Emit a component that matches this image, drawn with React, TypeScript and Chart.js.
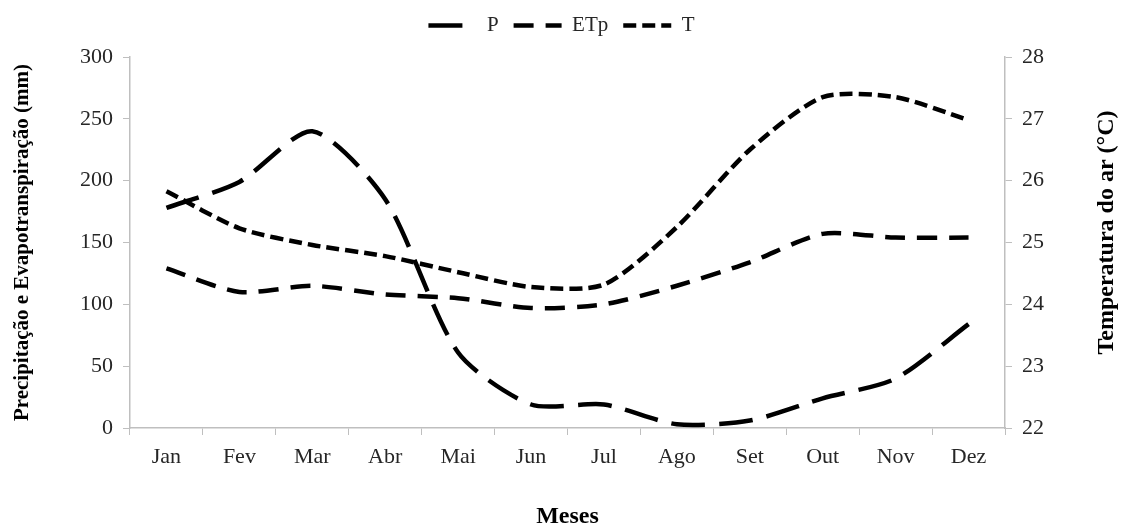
import React, { useEffect, useRef } from "react";
import { Chart, registerables } from "chart.js";

Chart.register(...registerables);

const months = ["Jan", "Fev", "Mar", "Abr", "Mai", "Jun", "Jul", "Ago", "Set", "Out", "Nov", "Dez"];
const precip = [178, 199, 240, 185, 61, 19, 19, 3, 6, 24, 40, 84];
const etp = [129, 110, 115, 108, 105, 97, 100, 115, 134, 157, 154, 154];
const temp = [25.83, 25.23, 24.96, 24.78, 24.52, 24.28, 24.32, 25.25, 26.5, 27.35, 27.35, 26.98];

const leftTicks = { min: 0, max: 300, step: 50 };
const rightTicks = { min: 22, max: 28, step: 1 };

const titleLeft = "Precipitação e Evapotranspiração (mm)";
const titleRight = "Temperatura do ar (°C)";
const titleX = "Meses";

const FONT = "'Liberation Serif', 'Times New Roman', serif";
const AXIS_GRAY = "#bfbfbf";
const TEXT = "#262626";

const rightTitlePlugin = {
  id: "rightTitle",
  afterDraw(chart: any) {
    const { ctx, chartArea } = chart;
    const s = chart.scales.y1;
    ctx.save();
    ctx.translate(s.right - 16, (chartArea.top + chartArea.bottom) / 2 - 10);
    ctx.rotate(-Math.PI / 2);
    ctx.font = `bold 24px ${FONT}`;
    ctx.fillStyle = "#000";
    ctx.textAlign = "center";
    ctx.textBaseline = "middle";
    ctx.fillText(titleRight, 0, 0);
    ctx.restore();
  },
};

export default function App() {
  const ref = useRef<HTMLCanvasElement | null>(null);
  useEffect(() => {
    if (!ref.current) return;
    const tickFont = { family: FONT, size: 22 };
    const mk = (label: string, data: number[], axis: string, dash: number[]) => ({
      label,
      data,
      yAxisID: axis,
      borderColor: "#000",
      backgroundColor: "#000",
      borderWidth: 4.5,
      borderDash: dash,
      pointRadius: 0,
      tension: 0.25,
      fill: false,
    });
    const chart = new Chart(ref.current, {
      type: "line",
      data: {
        labels: months,
        datasets: [
          mk("P", precip, "y", [34, 14]),
          mk("ETp", etp, "y", [20, 12]),
          mk("T", temp, "y1", [13, 6]),
        ],
      },
      options: {
        animation: false,
        responsive: false,
        layout: { padding: 0 },
        plugins: {
          tooltip: { enabled: false },
          legend: {
            position: "top",
            labels: {
              usePointStyle: true,
              pointStyleWidth: 48,
              padding: 15,
              color: TEXT,
              font: { family: FONT, size: 21 },
              generateLabels: (c: any) =>
                c.data.datasets.map((ds: any, i: number) => ({
                  text: ds.label,
                  fillStyle: "#000",
                  strokeStyle: "#000",
                  lineWidth: 4.5,
                  lineDash: ds.borderDash,
                  pointStyle: "line",
                  datasetIndex: i,
                  hidden: false,
                  fontColor: TEXT,
                })),
            },
          },
        },
        scales: {
          x: {
            type: "category",
            offset: true,
            grid: { display: true, drawOnChartArea: false, offset: true, tickLength: 7, color: AXIS_GRAY },
            border: { color: AXIS_GRAY, width: 1.5 },
            ticks: { font: tickFont, color: TEXT, padding: 9, maxRotation: 0, autoSkip: false },
            title: {
              display: true,
              text: titleX,
              color: "#000",
              font: { family: FONT, size: 24, weight: "bold" },
              padding: { top: 0, bottom: -6 },
            },
            afterFit: (s: any) => {
              s.height = 97;
            },
          },
          xTop: {
            type: "category",
            position: "top",
            display: true,
            grid: { display: false, drawTicks: false },
            border: { display: false },
            ticks: { display: false },
            afterFit: (s: any) => {
              s.height = 11;
            },
          },
          y: {
            position: "left",
            min: leftTicks.min,
            max: leftTicks.max,
            ticks: { stepSize: leftTicks.step, font: tickFont, color: TEXT, padding: 10 },
            grid: { drawOnChartArea: false, tickLength: 7, color: AXIS_GRAY },
            border: { color: AXIS_GRAY, width: 1.5 },
            title: {
              display: true,
              text: titleLeft,
              color: "#000",
              font: { family: FONT, size: 21, weight: "bold" },
              padding: { top: 10, bottom: 0 },
            },
            afterFit: (s: any) => {
              s.width = 130;
            },
          },
          y1: {
            position: "right",
            min: rightTicks.min,
            max: rightTicks.max,
            ticks: { stepSize: rightTicks.step, font: tickFont, color: TEXT, padding: 10 },
            grid: { drawOnChartArea: false, tickLength: 7, color: AXIS_GRAY },
            border: { color: AXIS_GRAY, width: 1.5 },
            afterFit: (s: any) => {
              s.width = 118;
            },
          },
        },
      } as any,
      plugins: [rightTitlePlugin],
    });
    return () => chart.destroy();
  }, []);

  return (
    <div style={{ position: "fixed", left: 0, top: 0, width: 1123, height: 525, background: "#fff" }}>
      <canvas ref={ref} width={1123} height={525} style={{ display: "block" }} />
    </div>
  );
}
